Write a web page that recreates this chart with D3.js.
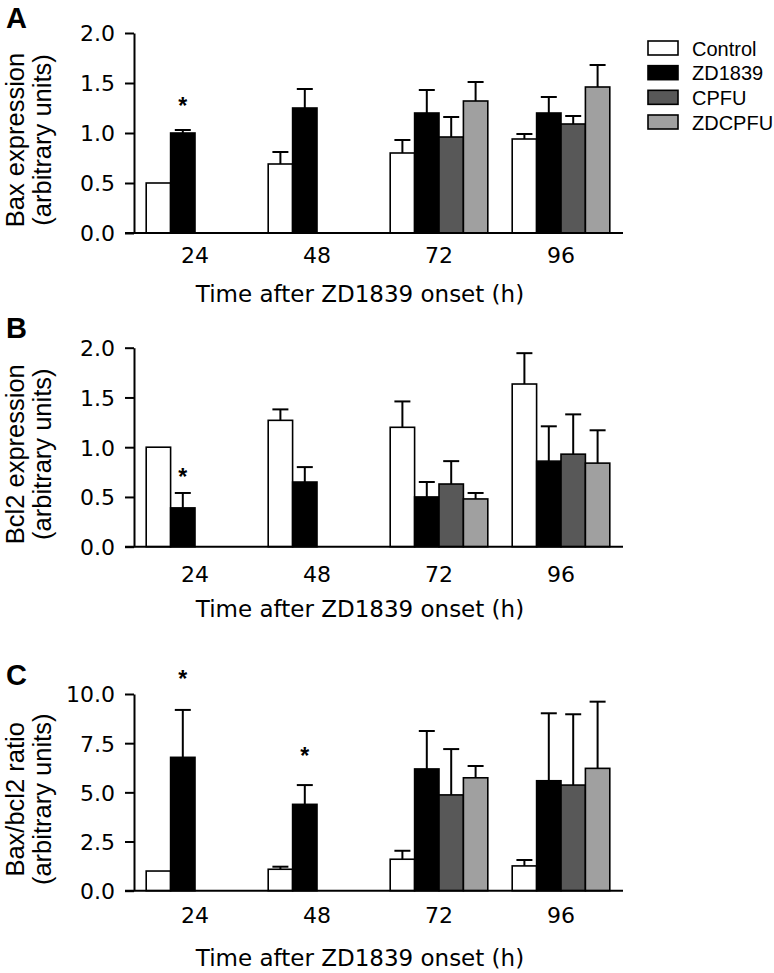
<!DOCTYPE html>
<html><head><meta charset="utf-8">
<script src="https://cdn.jsdelivr.net/npm/d3@7"></script>
<style>html,body{margin:0;padding:0;background:#fff}svg{display:block}</style>
</head><body>
<script>
const categories = ["24", "48", "72", "96"];
const seriesNames = ["Control", "ZD1839", "CPFU", "ZDCPFU"];
const seriesColors = ["#ffffff", "#000000", "#585858", "#a0a0a0"];

// Panel A: Bax expression (mean, SEM)
const baxControl = [0.50, 0.69, 0.80, 0.94];
const baxZD1839 = [1.00, 1.25, 1.20, 1.20];
const baxCPFU = [null, null, 0.96, 1.09];
const baxZDCPFU = [null, null, 1.32, 1.46];
const baxControlErr = [0, 0.12, 0.13, 0.05];
const baxZD1839Err = [0.03, 0.19, 0.23, 0.16];
const baxCPFUErr = [null, null, 0.20, 0.08];
const baxZDCPFUErr = [null, null, 0.19, 0.22];

// Panel B: Bcl2 expression
const bcl2Control = [1.00, 1.27, 1.20, 1.635];
const bcl2ZD1839 = [0.39, 0.65, 0.50, 0.86];
const bcl2CPFU = [null, null, 0.63, 0.93];
const bcl2ZDCPFU = [null, null, 0.48, 0.84];
const bcl2ControlErr = [0, 0.11, 0.26, 0.31];
const bcl2ZD1839Err = [0.15, 0.15, 0.15, 0.35];
const bcl2CPFUErr = [null, null, 0.23, 0.40];
const bcl2ZDCPFUErr = [null, null, 0.06, 0.33];

// Panel C: Bax/bcl2 ratio
const ratioControl = [1.00, 1.09, 1.60, 1.26];
const ratioZD1839 = [6.78, 4.39, 6.19, 5.59];
const ratioCPFU = [null, null, 4.87, 5.37];
const ratioZDCPFU = [null, null, 5.74, 6.22];
const ratioControlErr = [0, 0.13, 0.43, 0.30];
const ratioZD1839Err = [2.41, 0.98, 1.93, 3.43];
const ratioCPFUErr = [null, null, 2.33, 3.60];
const ratioZDCPFUErr = [null, null, 0.60, 3.39];

const baxTicks = [0, 0.5, 1.0, 1.5, 2.0];
const bcl2Ticks = [0, 0.5, 1.0, 1.5, 2.0];
const ratioTicks = [0, 2.5, 5.0, 7.5, 10.0];

// significance markers (category, series index, y value)
const baxStars = [{cat: "24", s: 1, y: 1.32}];
const bcl2Stars = [{cat: "24", s: 1, y: 0.75}];
const ratioStars = [{cat: "24", s: 1, y: 11.0}, {cat: "48", s: 1, y: 7.1}];

const W = 774, H = 973;
const svg = d3.select("body").append("svg").attr("width", W).attr("height", H);

const x0 = d3.scaleBand().domain(categories).range([134, 622]).paddingInner(0.2).paddingOuter(0.1);
const x1 = d3.scaleBand().domain(d3.range(4)).range([0, x0.bandwidth()]);

const panels = [
  {letter: "A", letterY: 28, top: 33, bottom: 233, max: 2, ticks: baxTicks, fmt: d3.format(".1f"),
   means: [baxControl, baxZD1839, baxCPFU, baxZDCPFU], errs: [baxControlErr, baxZD1839Err, baxCPFUErr, baxZDCPFUErr],
   stars: baxStars, lab1: "Bax expression", tickY: 263, titleY: 302},
  {letter: "B", letterY: 338, top: 347.7, bottom: 546.7, max: 2, ticks: bcl2Ticks, fmt: d3.format(".1f"),
   means: [bcl2Control, bcl2ZD1839, bcl2CPFU, bcl2ZDCPFU], errs: [bcl2ControlErr, bcl2ZD1839Err, bcl2CPFUErr, bcl2ZDCPFUErr],
   stars: bcl2Stars, lab1: "Bcl2 expression", tickY: 582, titleY: 617},
  {letter: "C", letterY: 685, top: 694, bottom: 890.7, max: 10, ticks: ratioTicks, fmt: d3.format(".1f"),
   means: [ratioControl, ratioZD1839, ratioCPFU, ratioZDCPFU], errs: [ratioControlErr, ratioZD1839Err, ratioCPFUErr, ratioZDCPFUErr],
   stars: ratioStars, lab1: "Bax/bcl2 ratio", tickY: 923, titleY: 966}
];

panels.forEach(p => {
  const y = d3.scaleLinear().domain([0, p.max]).range([p.bottom, p.top]);
  const g = svg.append("g");

  // panel letter
  g.append("text").attr("x", 6).attr("y", p.letterY)
    .attr("font-family", "Liberation Sans, Arial, sans-serif").attr("font-weight", "bold")
    .attr("font-size", 29).text(p.letter);

  // y label
  const cy = (p.top + p.bottom) / 2 + 7;
  g.append("text").attr("transform", `translate(23.5,${cy}) rotate(-90)`).attr("text-anchor", "middle")
    .attr("font-family", "Liberation Sans, Arial, sans-serif").attr("font-size", 25.5).text(p.lab1);
  g.append("text").attr("transform", `translate(50.5,${cy}) rotate(-90)`).attr("text-anchor", "middle")
    .attr("font-family", "Liberation Sans, Arial, sans-serif").attr("font-size", 25.5).text("(arbitrary units)");

  // bars
  seriesNames.forEach((s, si) => {
    categories.forEach((c, ci) => {
      const v = p.means[si][ci];
      if (v == null) return;
      const bx = x0(c) + x1(si);
      const bw = x1.bandwidth();
      g.append("rect").attr("x", bx).attr("y", y(v)).attr("width", bw).attr("height", y(0) - y(v))
        .attr("fill", seriesColors[si]).attr("stroke", "#000").attr("stroke-width", 1.6);
      const e = p.errs[si][ci];
      if (e) {
        const cxm = bx + bw / 2;
        g.append("line").attr("x1", cxm).attr("x2", cxm).attr("y1", y(v)).attr("y2", y(v + e))
          .attr("stroke", "#000").attr("stroke-width", 2);
        g.append("line").attr("x1", cxm - 8).attr("x2", cxm + 8).attr("y1", y(v + e)).attr("y2", y(v + e))
          .attr("stroke", "#000").attr("stroke-width", 2);
      }
    });
  });

  // stars
  p.stars.forEach(st => {
    g.append("text").attr("x", x0(st.cat) + x1(st.s) + x1.bandwidth() / 2).attr("y", y(st.y) + 13)
      .attr("text-anchor", "middle").attr("font-family", "Liberation Sans, Arial, sans-serif")
      .attr("font-weight", "bold").attr("font-size", 23).text("*");
  });

  // y axis
  const ya = d3.axisLeft(y).tickValues(p.ticks).tickFormat(p.fmt).tickSize(9).tickSizeOuter(0).tickPadding(10);
  const yg = g.append("g").attr("transform", "translate(134,0)").call(ya);
  yg.selectAll("path,line").attr("stroke", "#000").attr("stroke-width", 2);
  yg.selectAll("text").attr("font-family", "DejaVu Sans, sans-serif").attr("font-size", 22)
    .attr("fill", "#000").attr("dy", "0.36em");

  // x axis
  g.append("line").attr("x1", 125).attr("x2", 623).attr("y1", y(0)).attr("y2", y(0))
    .attr("stroke", "#000").attr("stroke-width", 2);
  const xa = d3.axisBottom(x0).tickSize(0).tickSizeOuter(0);
  const xg = g.append("g").attr("transform", `translate(0,${y(0)})`).call(xa);
  xg.select(".domain").remove();
  xg.selectAll("text").attr("font-family", "DejaVu Sans, sans-serif").attr("font-size", 22)
    .attr("fill", "#000").attr("dy", 0).attr("y", p.tickY - y(0));

  // x title
  g.append("text").attr("x", 360).attr("y", p.titleY).attr("text-anchor", "middle")
    .attr("font-family", "DejaVu Sans, sans-serif").attr("font-size", 23).text("Time after ZD1839 onset (h)");
});

// legend
const leg = svg.append("g");
const legY = d3.scalePoint().domain(seriesNames).range([48, 122]);
seriesNames.forEach((s, i) => {
  leg.append("rect").attr("x", 648).attr("y", legY(s) - 7).attr("width", 30).attr("height", 14)
    .attr("fill", seriesColors[i]).attr("stroke", "#000").attr("stroke-width", 1.6);
  leg.append("text").attr("x", 692).attr("y", legY(s) + 7.5)
    .attr("font-family", "Liberation Sans, Arial, sans-serif").attr("font-size", 20).text(s);
});
</script>
</body></html>
